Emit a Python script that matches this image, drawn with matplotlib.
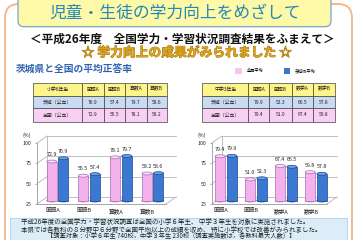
import numpy as np
import matplotlib
matplotlib.use("Agg")
import matplotlib.pyplot as plt
from matplotlib.patches import Rectangle, FancyBboxPatch, Ellipse
import matplotlib.patheffects as pe

plt.rcParams['font.family'] = ['Noto Sans CJK JP', 'DejaVu Sans']

# --- data ---
cats_elem = ['国語A', '国語B', '算数A', '算数B']
cats_jhs = ['国語A', '国語B', '数学A', '数学B']
elem_ibaraki = [76.9, 57.4, 79.7, 58.6]
elem_national = [72.9, 55.5, 78.1, 58.2]
jhs_ibaraki = [79.9, 52.3, 66.5, 57.8]
jhs_national = [79.4, 51.0, 67.4, 59.8]
yticks = [25, 50, 75, 100]

PINK, PINK_E, PINK_L = '#f3b2ee', '#a86db2', '#fbd9f8'
BLUE, BLUE_E, BLUE_L = '#3a78d2', '#1c4a92', '#6a9ee6'

fig = plt.figure(figsize=(3.6, 2.4), dpi=100)
bg = fig.add_axes([0, 0, 1, 1])
bg.set_xlim(0, 360)
bg.set_ylim(240, 0)
bg.axis('off')

# outer frame + title box
bg.add_patch(FancyBboxPatch((5, 4), 347, 262, boxstyle="round,pad=0,rounding_size=14",
                            fc='white', ec='#f3b486', lw=1.3))
bg.add_patch(FancyBboxPatch((18, -10), 313, 36.7, boxstyle="round,pad=0,rounding_size=6",
                            fc='#fdf9a6', ec='#7ea3bd', lw=0.9))
bg.text(175.5, 13.5, '児童・生徒の学力向上をめざして', fontsize=12.1, color='#2588b8',
        ha='center', va='center')
bg.text(182.5, 39, '＜平成26年度　全国学力・学習状況調査結果をふまえて＞', fontsize=8.4,
        weight='bold', ha='center', va='center', color='#111')
bg.text(186.5, 53, '☆ 学力向上の成果がみられました ☆', fontsize=9.2, weight='bold',
        color='#dba41a', ha='center', va='center',
        path_effects=[pe.withStroke(linewidth=0.6, foreground='#a07010')])
bg.text(16, 70, '茨城県と全国の平均正答率', fontsize=7, weight='bold', color='#2e62b0',
        ha='left', va='center')

# legend
bg.add_patch(Rectangle((235, 67.5), 6.5, 6, fc='#f8c6ea', ec='none'))
bg.text(246.5, 70.5, '全国平均', fontsize=3, ha='left', va='center')
bg.add_patch(Rectangle((283.5, 67.5), 6.5, 6, fc='#3b77c9', ec='none'))
bg.text(295, 70.5, '茨城県平均', fontsize=3, ha='left', va='center')


def draw_table(x_edges, head, cats, iba, nat):
    y_edges = [82.7, 95.7, 108.3, 121.7]
    fills = ['#fdf48a', '#c8dbf1', '#f8d0f4']
    rows = [[head] + cats,
            ['茨城（公立）'] + [f"{v:.1f}" for v in iba],
            ['全国（公立）'] + [f"{v:.1f}" for v in nat]]
    for r in range(3):
        for c in range(5):
            x0, x1 = x_edges[c], x_edges[c + 1]
            y0, y1 = y_edges[r], y_edges[r + 1]
            bg.add_patch(Rectangle((x0, y0), x1 - x0, y1 - y0, fc=fills[r], ec='#444', lw=0.5))
            bg.text((x0 + x1) / 2, (y0 + y1) / 2, rows[r][c], fontsize=3.5,
                    ha='center', va='center', color='#222')


draw_table([33, 82, 104, 125, 146.7, 166.7], '小学6年生', cats_elem, elem_ibaraki, elem_national)
draw_table([202, 248.3, 269.3, 291.7, 313.3, 335], '中学3年生', cats_jhs, jhs_ibaraki, jhs_national)


def draw_chart(left, right, first_center, sx, cats, nat, iba):
    top, bottom = 143, 204
    ax = fig.add_axes([left / 360, (240 - bottom) / 240, (right - left) / 360, (bottom - top) / 240])
    ax.patch.set_alpha(0)
    xmin = -(first_center - left) / sx
    xmax = xmin + (right - left) / sx
    ax.set_xlim(xmin, xmax)
    ax.set_ylim(25, 100)
    sy = (bottom - top) / 75
    dx, dy = 10 / sx, 7 / sy
    gc = '#b4b4b4'
    # back wall and connectors (fake 3D)
    for v in yticks:
        ax.plot([xmin + dx, xmax + dx], [v + dy, v + dy], color=gc, lw=0.6, clip_on=False, zorder=1)
        ax.plot([xmin, xmin + dx], [v, v + dy], color=gc, lw=0.6, clip_on=False, zorder=1)
    ax.plot([xmin + dx, xmin + dx], [25 + dy, 100 + dy], color=gc, lw=0.6, clip_on=False, zorder=1)
    ax.plot([xmax, xmax + dx], [25, 25 + dy], color=gc, lw=0.6, clip_on=False, zorder=1)

    x = np.arange(len(cats))
    bw, off = 10 / sx, 5.8 / sx
    for vals, col, edge, light, sign in [(nat, PINK, PINK_E, PINK_L, -1),
                                         (iba, BLUE, BLUE_E, BLUE_L, 1)]:
        xs = x + sign * off + dx / 2
        ax.bar(xs, np.array(vals) - 25, bottom=25 + dy / 2, width=bw, color=col,
               edgecolor=edge, lw=0.5, clip_on=False, zorder=3)
        for xc, v in zip(xs, vals):
            ax.add_patch(Ellipse((xc, 25 + dy / 2), bw, 3 / sy, fc=col, ec=edge, lw=0.5,
                                 zorder=2, clip_on=False))
            ax.add_patch(Ellipse((xc, v + dy / 2), bw, 3 / sy, fc=light, ec=edge, lw=0.5,
                                 zorder=4, clip_on=False))
            ax.annotate(f"{v:.1f}", (xc, v + dy / 2), xytext=(0, 3.2), textcoords='offset points',
                        ha='center', va='bottom', fontsize=3.8, color='#222', zorder=5,
                        annotation_clip=False)

    ax.set_yticks(yticks)
    ax.tick_params(axis='y', length=1.5, width=0.5, labelsize=3.8, pad=2.3, color='#999',
                   labelcolor='#222')
    ax.set_xticks(x)
    ax.set_xticklabels(cats)
    ax.tick_params(axis='x', length=0, labelsize=4.1, pad=3, labelcolor='#222')
    for s in ['top', 'right']:
        ax.spines[s].set_visible(False)
    for s in ['left', 'bottom']:
        ax.spines[s].set_color('#999')
        ax.spines[s].set_linewidth(0.6)
    ax.text(xmin - 10.3 / sx, 100 + 8 / sy, '(%)', fontsize=3.8, ha='center', va='center',
            color='#222')
    return ax


draw_chart(37, 166, 52.5, 31.7, cats_elem, elem_national, elem_ibaraki)
draw_chart(212, 327, 221, 30, cats_jhs, jhs_national, jhs_ibaraki)

# bottom notes
bg.add_patch(Rectangle((10, 217.5), 337, 30, fc='#dcedf8', ec='#a9cfe9', lw=0.6))
bg.text(20.7, 221.5, '平成26年度の全国学力・学習状況調査は全国の小学６年生、 中学３年生を対象に実施されました。',
        fontsize=4.7, ha='left', va='center', color='#222')
bg.text(20.7, 229.5, '本県では各教科の８分野中６分野で全国平均以上の成績を収め、 特に小学校では改善がみられました。',
        fontsize=4.7, ha='left', va='center', color='#222')
bg.text(46.7, 236.6, '【調査対象：小学６年生 740校，中学３年生 230校（調査実施数は，各教科最大人数）】',
        fontsize=4.5, ha='left', va='center', color='#222')

fig.savefig('out.png', dpi=100)
